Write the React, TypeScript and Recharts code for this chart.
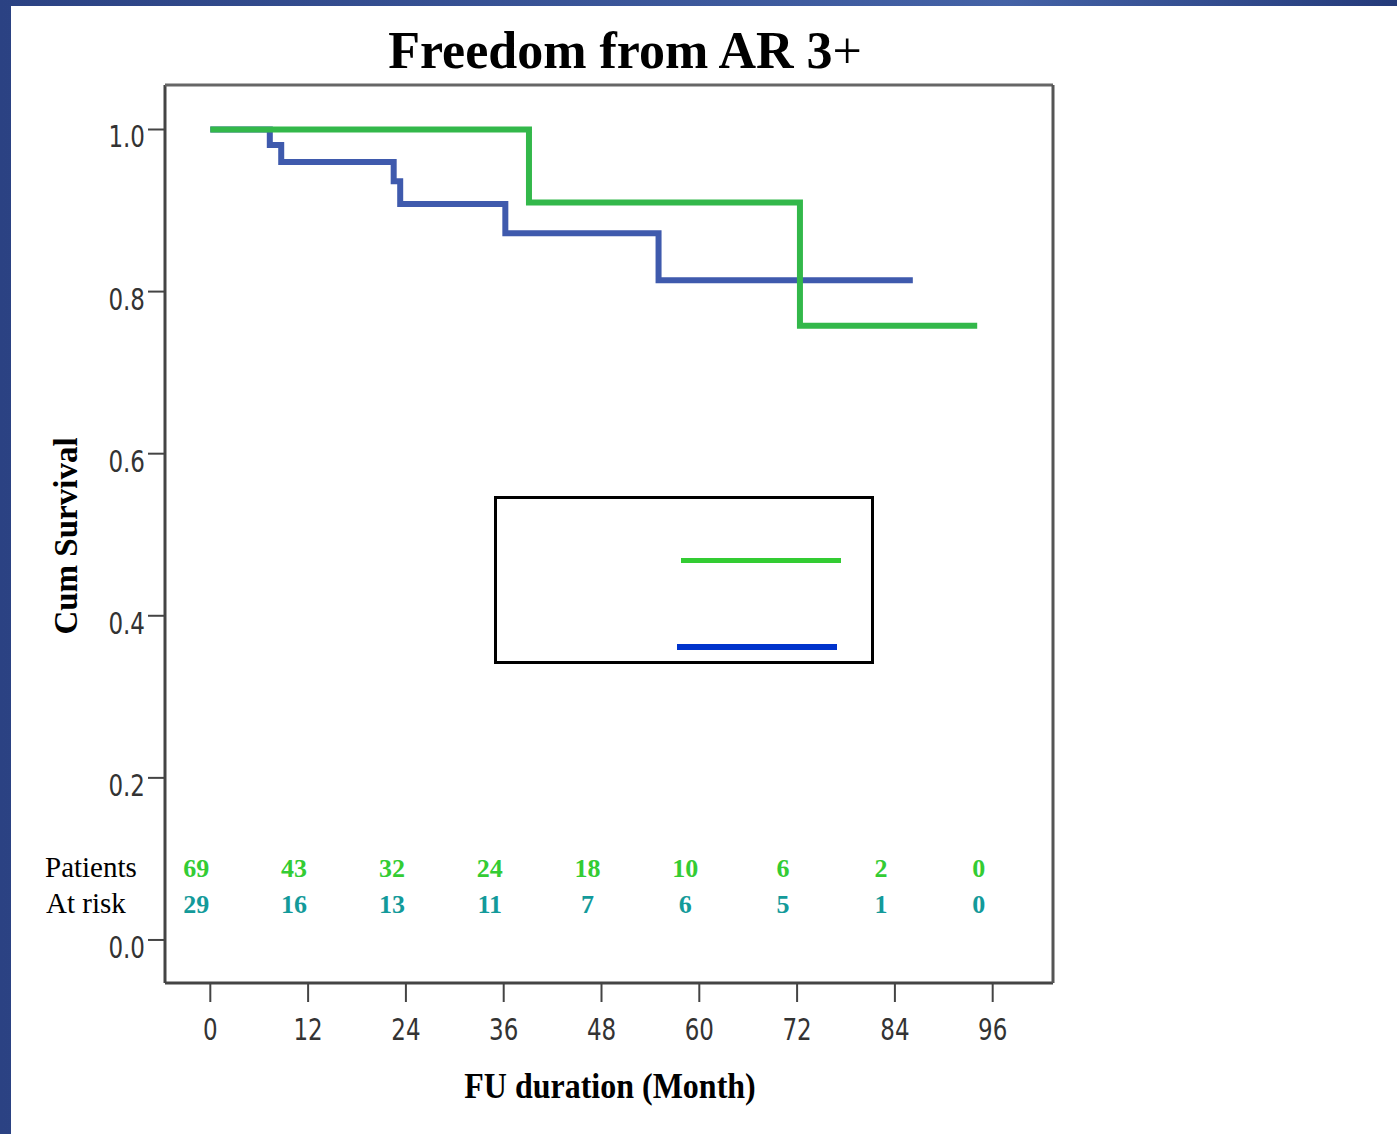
import React from 'react';
import { ComposedChart, Line, Scatter, XAxis, YAxis, Legend } from 'recharts';

// follow-up months on the x axis, survival ticks on the y axis
const months = [0, 12, 24, 36, 48, 60, 72, 84, 96];
const survivalTicks = [0, 0.2, 0.4, 0.6, 0.8, 1.0];

// green group: step times (months) and cumulative survival
const greenTimes = [0, 39.1, 72.35, 94.1];
const greenSurvival = [1.0, 0.91, 0.758, 0.758];

// blue group
const blueTimes = [0, 7.3, 8.7, 22.5, 23.3, 36.2, 55.0, 86.2];
const blueSurvival = [1.0, 0.981, 0.96, 0.936, 0.908, 0.872, 0.814, 0.814];

// patients at risk under each month tick
const greenAtRisk = [69, 43, 32, 24, 18, 10, 6, 2, 0];
const blueAtRisk = [29, 16, 13, 11, 7, 6, 5, 1, 0];

const greenData = greenTimes.map((t, i) => ({ t, s: greenSurvival[i] }));
const blueData = blueTimes.map((t, i) => ({ t, s: blueSurvival[i] }));
// rows of the at-risk table sit low inside the plot
const greenRiskRow = months.map((t, i) => ({ t, ry: 0.0777, n: greenAtRisk[i] }));
const blueRiskRow = months.map((t, i) => ({ t, ry: 0.0333, n: blueAtRisk[i] }));

const serif = '"Liberation Serif", "Times New Roman", serif';
const sans = '"DejaVu Sans", Verdana, sans-serif';

function XTick({ x, y, payload }: any) {
  return (
    <g transform={`translate(${x},${y})`}>
      <text transform="scale(1,1.32)" y={27.3} textAnchor="middle" fontFamily={sans} fontSize={23} fill="#333">
        {payload.value}
      </text>
    </g>
  );
}

function YTick({ x, y, payload }: any) {
  return (
    <g transform={`translate(${x},${y})`}>
      <text transform="scale(1,1.3)" y={13.8} textAnchor="end" fontFamily={sans} fontSize={23} fill="#333">
        {Number(payload.value).toFixed(1)}
      </text>
    </g>
  );
}

function riskShape(color: string) {
  return (p: any) => (
    <text x={p.cx - 14} y={p.cy} textAnchor="middle" fontFamily={serif} fontWeight="bold" fontSize={26} fill={color}>
      {p.payload.n}
    </text>
  );
}

function LegendBox() {
  return (
    <div style={{ width: 380, height: 168, border: '3px solid #000', boxSizing: 'border-box', position: 'relative', background: '#fff' }}>
      <div style={{ position: 'absolute', left: 184, top: 59, width: 160, height: 5, background: '#33cc33' }} />
      <div style={{ position: 'absolute', left: 180, top: 145, width: 160, height: 6, background: '#0033cc' }} />
    </div>
  );
}

export default function App() {
  return (
    <div style={{ position: 'absolute', left: 0, top: 0, width: 1397, height: 1134, overflow: 'hidden', background: 'linear-gradient(90deg, #2b4283 0%, #4462a6 72%, #243a7a 100%)' }}>
      <div style={{ position: 'absolute', left: 11, top: 6, right: 0, bottom: 0, background: '#fff' }} />
      <div style={{ position: 'absolute', left: 0, top: 0 }}>
        {/* axes are 1px thick so they still draw; margins leave the plot at 165..1053 x 85..983 */}
        <ComposedChart width={1397} height={1134} margin={{ top: 84, left: 164, right: 343, bottom: 150 }}>
          <XAxis
            dataKey="t"
            type="number"
            domain={[-5.56, 103.4]}
            allowDataOverflow
            ticks={months}
            interval={0}
            height={1}
            tickSize={19}
            tickMargin={2}
            tick={XTick}
            axisLine={{ stroke: '#444', strokeWidth: 3 }}
            tickLine={{ stroke: '#444', strokeWidth: 2 }}
            label={(p: any) => {
              const vb = p.viewBox;
              return (
                <text transform={`translate(${vb.x + vb.width / 2 + 1},${vb.y + 115}) scale(1,1.1)`} textAnchor="middle" fontFamily={serif} fontWeight="bold" fontSize={32} fill="#000">
                  FU duration (Month)
                </text>
              );
            }}
          />
          <YAxis
            type="number"
            domain={[-0.0531, 1.0549]}
            allowDataOverflow
            ticks={survivalTicks}
            interval={0}
            width={1}
            tickSize={17}
            tickMargin={3}
            tick={YTick}
            axisLine={{ stroke: '#444', strokeWidth: 3 }}
            tickLine={{ stroke: '#444', strokeWidth: 2 }}
            label={(p: any) => {
              const vb = p.viewBox;
              const cx = vb.x - 87;
              const cy = vb.y + vb.height / 2 + 2;
              return (
                <g>
                  <text x={cx} y={cy} transform={`rotate(-90, ${cx}, ${cy})`} textAnchor="middle" fontFamily={serif} fontWeight="bold" fontSize={33} fill="#000">
                    Cum Survival
                  </text>
                  <text x={45} y={877} fontFamily={serif} fontSize={29} fill="#000">Patients</text>
                  <text x={46} y={913} fontFamily={serif} fontSize={29} fill="#000">At risk</text>
                </g>
              );
            }}
          />
          {/* top and right edges of the frame */}
          <XAxis
            xAxisId="frameTop"
            orientation="top"
            type="number"
            domain={[0, 1]}
            height={1}
            tick={false}
            tickLine={false}
            axisLine={{ stroke: '#666', strokeWidth: 3 }}
            label={(p: any) => {
              const vb = p.viewBox;
              return (
                <text x={vb.x + vb.width / 2 + 16} y={68} textAnchor="middle" fontFamily={serif} fontWeight="bold" fontSize={52} fill="#000">
                  Freedom from AR 3<tspan fontWeight="normal">+</tspan>
                </text>
              );
            }}
          />
          <YAxis
            yAxisId="frameRight"
            orientation="right"
            type="number"
            domain={[0, 1]}
            width={1}
            tick={false}
            tickLine={false}
            axisLine={{ stroke: '#555', strokeWidth: 3 }}
          />
          <Legend
            layout="horizontal"
            verticalAlign="middle"
            align="center"
            wrapperStyle={{ left: 494, top: 496, width: 380, height: 168 }}
            content={() => <LegendBox />}
          />
          <Line data={blueData} dataKey="s" type="stepAfter" stroke="#3f5aad" strokeWidth={6} dot={false} activeDot={false} isAnimationActive={false} legendType="line" />
          <Line data={greenData} dataKey="s" type="stepAfter" stroke="#33b84a" strokeWidth={6} dot={false} activeDot={false} isAnimationActive={false} legendType="line" />
          <Scatter data={greenRiskRow} dataKey="ry" shape={riskShape('#33cc33')} isAnimationActive={false} legendType="none" />
          <Scatter data={blueRiskRow} dataKey="ry" shape={riskShape('#139a9a')} isAnimationActive={false} legendType="none" />
        </ComposedChart>
      </div>
    </div>
  );
}
